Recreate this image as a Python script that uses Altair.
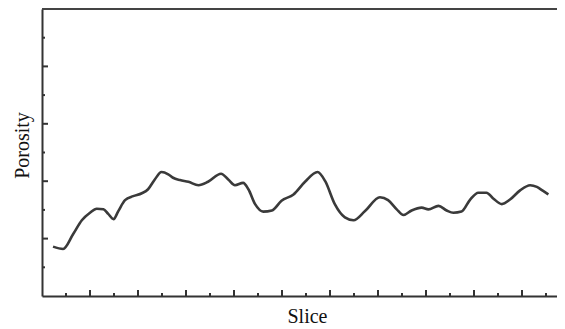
import altair as alt
import pandas as pd

# Curve
slice_idx = [2.3, 4.4, 6.5, 8.3, 10.0, 11.4, 12.8, 13.8, 14.9, 15.9,
             17.3, 19.0, 20.8, 22.1, 23.5, 24.9, 26.3, 27.3, 28.75, 30.5,
             32.6, 34.6, 37.3, 38.8, 40.2, 41.9, 43.0, 44.4, 46.1, 47.9,
             49.9, 52.4, 54.8, 57.4, 59.0, 61.0, 63.1, 64.9, 67.3, 70.4,
             72.1, 73.9, 75.3, 77.0, 79.1, 80.5, 82.6, 84.3, 85.7, 87.4,
             89.2, 90.9, 92.6, 94.0, 95.8, 97.5, 99.6, 101.7, 103.1, 104.4,
             105.5]
porosity = [0.086, 0.082, 0.108, 0.132, 0.145, 0.152, 0.151, 0.143, 0.134, 0.148,
            0.167, 0.174, 0.179, 0.186, 0.203, 0.216, 0.212, 0.206, 0.202, 0.199,
            0.193, 0.199, 0.213, 0.203, 0.193, 0.197, 0.186, 0.160, 0.147, 0.149,
            0.166, 0.177, 0.199, 0.216, 0.200, 0.160, 0.137, 0.132, 0.148, 0.172,
            0.167, 0.151, 0.141, 0.149, 0.154, 0.151, 0.157, 0.149, 0.145, 0.147,
            0.168, 0.180, 0.180, 0.170, 0.160, 0.168, 0.184, 0.193, 0.190, 0.183,
            0.177]

# Tick positions (no labels in the reference)
x_major = [10, 20, 30, 40, 50, 60, 70, 80, 90, 100]
x_minor = [5, 15, 25, 35, 45, 55, 65, 75, 85, 95, 105]
y_major = [0.1, 0.2, 0.3, 0.4]
y_minor = [0.05, 0.15, 0.25, 0.35, 0.45]

PLOT_W = 515
PLOT_H = 287
INK = "#333333"

df = pd.DataFrame({"slice": slice_idx, "porosity": porosity})

x_scale = alt.Scale(domain=[0, 107.29], nice=False, zero=False)
y_scale = alt.Scale(domain=[0, 0.5], nice=False, zero=False)

serif = "Liberation Serif"

line = alt.Chart(df).mark_line(
    interpolate="monotone", color="#3a3a3a", strokeWidth=2.6
).encode(
    x=alt.X("slice:Q", scale=x_scale, axis=alt.Axis(
        title="Slice", labels=False, ticks=False, grid=False,
        domainColor=INK, domainWidth=2,
        titleFont=serif, titleFontSize=20, titleFontWeight="normal",
        titleColor="#111111", titleX=265, titleY=26,
        titleBaseline="alphabetic", titleAlign="center")),
    y=alt.Y("porosity:Q", scale=y_scale, axis=alt.Axis(
        title="Porosity", labels=False, ticks=False, grid=False,
        domainColor=INK, domainWidth=2,
        titleFont=serif, titleFontSize=20, titleFontWeight="normal",
        titleColor="#111111", titleAngle=270, titleX=-14, titleY=136,
        titleBaseline="alphabetic", titleAlign="center")),
)

xt_major = alt.Chart(pd.DataFrame({"slice": x_major})).mark_rule(
    color=INK, strokeWidth=2
).encode(x=alt.X("slice:Q", scale=x_scale), y=alt.value(PLOT_H), y2=alt.value(PLOT_H - 6))

xt_minor = alt.Chart(pd.DataFrame({"slice": x_minor})).mark_rule(
    color=INK, strokeWidth=2
).encode(x=alt.X("slice:Q", scale=x_scale), y=alt.value(PLOT_H), y2=alt.value(PLOT_H - 3))

yt_major = alt.Chart(pd.DataFrame({"porosity": y_major})).mark_rule(
    color=INK, strokeWidth=2
).encode(y=alt.Y("porosity:Q", scale=y_scale), x=alt.value(0), x2=alt.value(6))

yt_minor = alt.Chart(pd.DataFrame({"porosity": y_minor})).mark_rule(
    color=INK, strokeWidth=2
).encode(y=alt.Y("porosity:Q", scale=y_scale), x=alt.value(0), x2=alt.value(3))

top_line = alt.Chart(pd.DataFrame({"porosity": [0.5]})).mark_rule(
    color="#444444", strokeWidth=2
).encode(y=alt.Y("porosity:Q", scale=y_scale))

chart = alt.layer(line, xt_major, xt_minor, yt_major, yt_minor, top_line).properties(
    width=PLOT_W, height=PLOT_H,
    padding={"left": 34, "top": 1, "right": 0, "bottom": 30},
    autosize="none",
    background="white",
).configure_view(stroke=None)

chart.save("out.html", embed_options={"renderer": "svg", "actions": False})
